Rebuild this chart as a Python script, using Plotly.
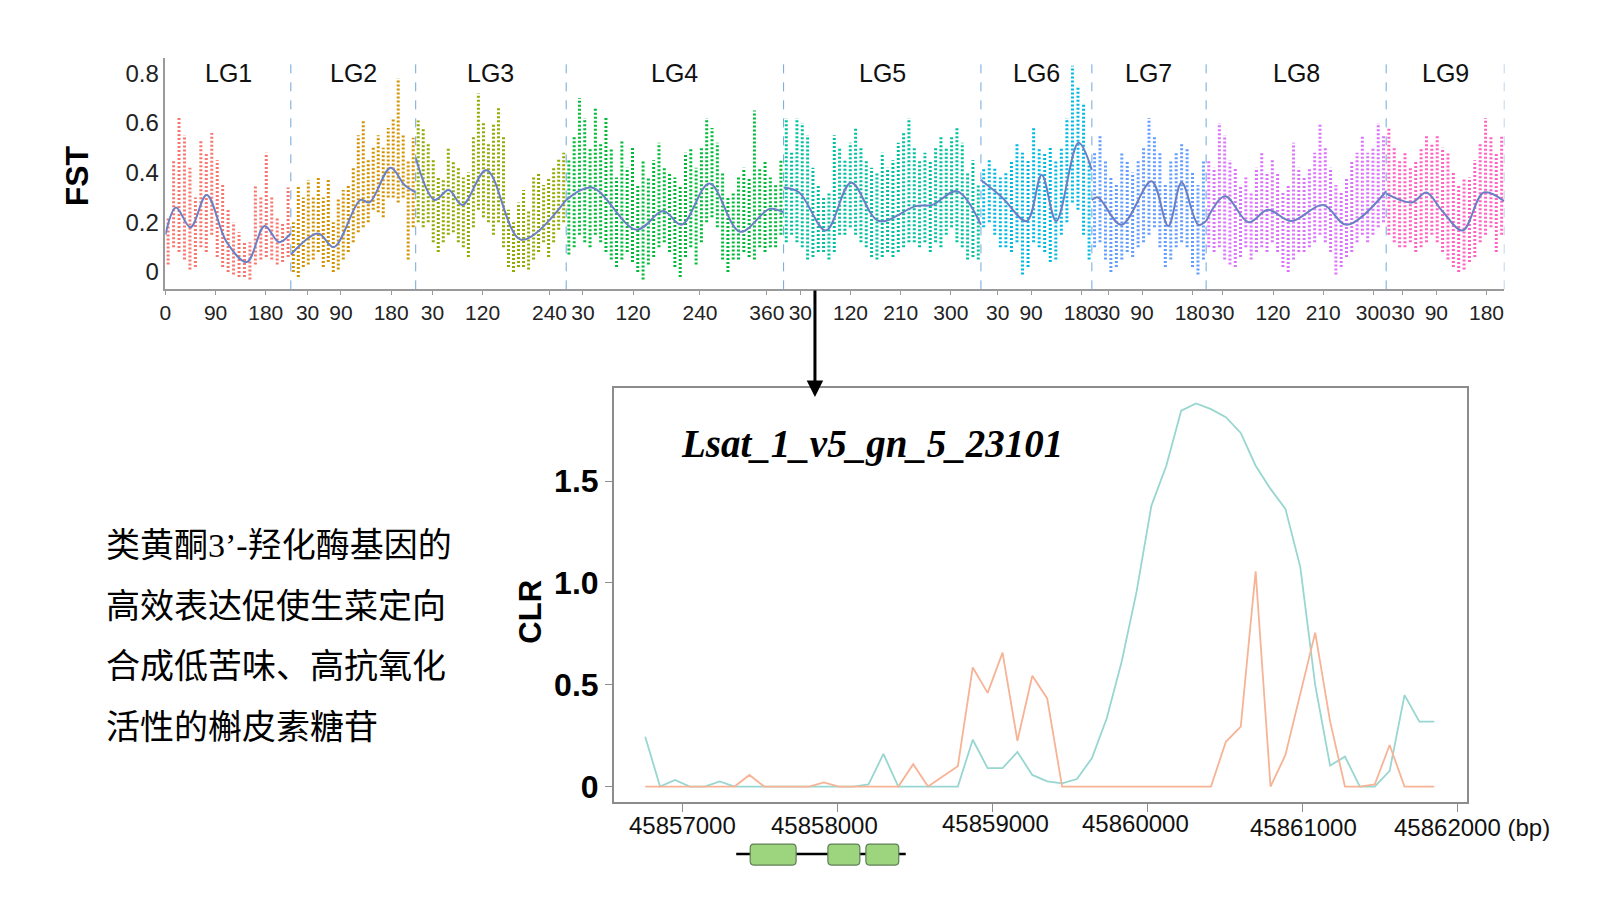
#%%
import numpy as np
import plotly.graph_objects as go

FONT = "Liberation Sans, Arial, sans-serif"

#%%
# genome-wide FST panel (top)
lg_names = ["LG1", "LG2", "LG3", "LG4", "LG5", "LG6", "LG7", "LG8", "LG9"]
lg_lengths = [225, 224, 270, 390, 354, 199, 205, 323, 212]  # Mb
lg_colors = ["#f8766d", "#d39200", "#93aa00", "#00ba38", "#00c19f",
             "#00b9e3", "#619cff", "#db72fb", "#ff61c3"]
lg_tick_labels = [[0, 90, 180], [30, 90, 180], [30, 120, 240], [30, 120, 240, 360],
                  [30, 120, 210, 300], [30, 90, 180], [30, 90, 180],
                  [30, 120, 210, 300], [30, 90, 180]]

# upper / lower edge of the FST point cloud, window by window along each LG
lg1_top = [0.22, 0.45, 0.62, 0.55, 0.42, 0.30, 0.53, 0.48, 0.56, 0.45, 0.35, 0.25, 0.20, 0.16, 0.12, 0.12,
           0.35, 0.30, 0.48, 0.30, 0.22, 0.20, 0.34]
lg1_bot = [0.03, 0.10, 0.08, 0.05, 0.01, 0.02, 0.10, 0.08, 0.15, 0.06, 0.02, 0.00, -0.01, -0.02, -0.02, -0.03,
           0.03, 0.05, 0.06, 0.05, 0.03, 0.04, 0.06]
lg2_top = [0.20, 0.35, 0.30, 0.37, 0.30, 0.38, 0.30, 0.37, 0.20, 0.30, 0.33, 0.35, 0.42, 0.55, 0.61, 0.45,
           0.50, 0.55, 0.50, 0.58, 0.62, 0.78, 0.55, 0.45, 0.54]
lg2_bot = [0.00, -0.02, 0.02, 0.03, 0.05, 0.08, 0.02, 0.04, 0.00, 0.01, 0.05, 0.08, 0.12, 0.16, 0.18, 0.20,
           0.25, 0.24, 0.22, 0.30, 0.30, 0.28, 0.30, 0.05, 0.18]
lg3_top = [0.61, 0.58, 0.52, 0.45, 0.38, 0.37, 0.50, 0.45, 0.42, 0.38, 0.40, 0.55, 0.72, 0.60, 0.52, 0.60,
           0.66, 0.55, 0.25, 0.20, 0.28, 0.33, 0.25, 0.38, 0.40, 0.35, 0.38, 0.42, 0.46, 0.48]
lg3_bot = [0.20, 0.18, 0.20, 0.12, 0.08, 0.12, 0.15, 0.16, 0.12, 0.10, 0.06, 0.18, 0.25, 0.22, 0.20, 0.15,
           0.20, 0.10, 0.02, 0.00, 0.02, 0.02, 0.01, 0.05, 0.08, 0.12, 0.06, 0.12, 0.17, 0.20]
lg4_top = [0.45, 0.55, 0.70, 0.62, 0.50, 0.66, 0.52, 0.62, 0.50, 0.38, 0.53, 0.42, 0.50, 0.35, 0.45, 0.38,
           0.45, 0.52, 0.42, 0.40, 0.38, 0.35, 0.48, 0.50, 0.42, 0.50, 0.62, 0.58, 0.52, 0.40, 0.30, 0.32,
           0.38, 0.42, 0.38, 0.65, 0.42, 0.45, 0.38, 0.35, 0.45]
lg4_bot = [0.07, 0.10, 0.15, 0.12, 0.10, 0.15, 0.12, 0.08, 0.05, 0.02, 0.05, 0.08, 0.04, 0.00, -0.03, 0.03,
           0.06, 0.10, 0.12, 0.08, 0.02, -0.02, 0.06, 0.10, 0.03, 0.12, 0.20, 0.22, 0.18, 0.05, 0.00, 0.05,
           0.05, 0.08, 0.06, 0.05, 0.10, 0.08, 0.10, 0.10, 0.15]
lg5_top = [0.62, 0.48, 0.62, 0.60, 0.55, 0.42, 0.35, 0.30, 0.32, 0.55, 0.50, 0.45, 0.52, 0.58, 0.50, 0.45,
           0.42, 0.40, 0.48, 0.42, 0.45, 0.52, 0.56, 0.62, 0.50, 0.45, 0.48, 0.45, 0.50, 0.55, 0.50, 0.55,
           0.58, 0.52, 0.40, 0.45, 0.35]
lg5_bot = [0.12, 0.15, 0.12, 0.10, 0.05, 0.06, 0.08, 0.08, 0.05, 0.08, 0.15, 0.15, 0.18, 0.15, 0.12, 0.10,
           0.06, 0.05, 0.06, 0.08, 0.06, 0.08, 0.10, 0.12, 0.12, 0.10, 0.12, 0.08, 0.12, 0.10, 0.15, 0.18,
           0.12, 0.10, 0.05, 0.06, 0.05]
lg6_top = [0.42, 0.45, 0.42, 0.38, 0.40, 0.45, 0.52, 0.48, 0.45, 0.58, 0.50, 0.48, 0.50, 0.45, 0.50, 0.62,
           0.83, 0.75, 0.68, 0.45]
lg6_bot = [0.18, 0.20, 0.15, 0.10, 0.10, 0.08, 0.12, -0.01, 0.02, 0.12, 0.10, 0.08, 0.04, 0.05, 0.15, 0.20,
           0.28, 0.25, 0.15, 0.05]
lg7_top = [0.48, 0.55, 0.45, 0.38, 0.35, 0.48, 0.45, 0.40, 0.45, 0.50, 0.62, 0.55, 0.48, 0.35, 0.45, 0.48,
           0.52, 0.50, 0.40, 0.35, 0.45]
lg7_bot = [0.10, 0.12, 0.05, 0.00, 0.02, 0.05, 0.08, 0.06, 0.10, 0.12, 0.15, 0.18, 0.10, 0.02, 0.05, 0.10,
           0.12, 0.10, 0.02, -0.01, 0.05]
lg8_top = [0.45, 0.42, 0.60, 0.55, 0.45, 0.42, 0.35, 0.38, 0.32, 0.42, 0.48, 0.40, 0.45, 0.40, 0.32, 0.35,
           0.52, 0.42, 0.38, 0.42, 0.48, 0.60, 0.50, 0.42, 0.35, 0.32, 0.38, 0.45, 0.48, 0.55, 0.48, 0.50,
           0.60, 0.55]
lg8_bot = [0.10, 0.08, 0.10, 0.05, 0.03, 0.02, 0.06, 0.10, 0.05, 0.08, 0.10, 0.08, 0.12, 0.08, 0.02, 0.00,
           0.05, 0.08, 0.08, 0.10, 0.12, 0.15, 0.12, 0.08, -0.01, 0.02, 0.06, 0.08, 0.12, 0.15, 0.12, 0.15,
           0.18, 0.20]
lg9_top = [0.58, 0.50, 0.45, 0.48, 0.42, 0.45, 0.50, 0.55, 0.52, 0.55, 0.50, 0.48, 0.40, 0.35, 0.38, 0.38,
           0.45, 0.52, 0.62, 0.55, 0.48, 0.55]
lg9_bot = [0.15, 0.12, 0.10, 0.10, 0.12, 0.08, 0.10, 0.12, 0.15, 0.12, 0.08, 0.05, 0.02, 0.00, 0.01, 0.04,
           0.06, 0.12, 0.15, 0.18, 0.08, 0.15]

fst_top = [lg1_top, lg2_top, lg3_top, lg4_top, lg5_top, lg6_top, lg7_top, lg8_top, lg9_top]
fst_bot = [lg1_bot, lg2_bot, lg3_bot, lg4_bot, lg5_bot, lg6_bot, lg7_bot, lg8_bot, lg9_bot]

# smoothed FST curve (position in Mb inside the LG, value)
smooth_pos = [[0, 19, 45, 74, 110, 146, 178, 204, 225],
              [0, 49, 77, 125, 141, 179, 204, 224],
              [0, 34, 59, 84, 127, 189, 270],
              [0, 46, 126, 174, 207, 257, 312, 365, 390],
              [0, 28, 76, 121, 171, 237, 267, 311, 354],
              [0, 38, 82, 109, 135, 175, 199],
              [0, 11, 53, 107, 137, 161, 191, 205],
              [0, 34, 76, 111, 153, 210, 252, 323],
              [0, 46, 72, 99, 137, 175, 212]]
smooth_val = [[0.15, 0.26, 0.18, 0.31, 0.12, 0.04, 0.185, 0.12, 0.155],
              [0.07, 0.155, 0.10, 0.29, 0.28, 0.42, 0.35, 0.32],
              [0.46, 0.29, 0.33, 0.27, 0.41, 0.13, 0.29],
              [0.29, 0.34, 0.17, 0.245, 0.19, 0.356, 0.162, 0.254, 0.24],
              [0.34, 0.32, 0.167, 0.359, 0.205, 0.265, 0.27, 0.325, 0.19],
              [0.37, 0.30, 0.205, 0.39, 0.205, 0.52, 0.41],
              [0.29, 0.30, 0.19, 0.365, 0.185, 0.36, 0.19, 0.205],
              [0.205, 0.305, 0.20, 0.25, 0.205, 0.27, 0.19, 0.325],
              [0.315, 0.28, 0.32, 0.25, 0.167, 0.32, 0.285]]

#%%
# CLR panel (bottom)
clr_pos = [45856760, 45856856, 45856952, 45857048, 45857144, 45857240, 45857336, 45857432, 45857528,
           45857624, 45857720, 45857816, 45857912, 45858008, 45858104, 45858200, 45858296, 45858392,
           45858488, 45858584, 45858680, 45858776, 45858872, 45858968, 45859064, 45859160, 45859256,
           45859352, 45859448, 45859544, 45859640, 45859736, 45859832, 45859928, 45860024, 45860120,
           45860216, 45860312, 45860408, 45860504, 45860600, 45860696, 45860792, 45860888, 45860984,
           45861080, 45861176, 45861272, 45861368, 45861464, 45861560, 45861656, 45861752, 45861848]
clr_teal = [0.245, 0, 0.032, 0, 0, 0.025, 0, 0, 0, 0, 0, 0, 0, 0, 0, 0.01, 0.16, 0, 0, 0, 0, 0,
            0.23, 0.09, 0.09, 0.17, 0.057, 0.025, 0.016, 0.037, 0.139, 0.335, 0.613, 0.956, 1.38, 1.576,
            1.846, 1.882, 1.854, 1.814, 1.737, 1.576, 1.462, 1.364, 1.078, 0.498, 0.103, 0.147, 0, 0,
            0.077, 0.449, 0.319, 0.319]
clr_orange = [0, 0, 0, 0, 0, 0, 0, 0.057, 0, 0, 0, 0, 0.02, 0, 0, 0, 0, 0, 0.11, 0, 0.05, 0.10,
              0.585, 0.46, 0.658, 0.225, 0.544, 0.433, 0, 0, 0, 0, 0, 0, 0, 0, 0, 0, 0, 0.22, 0.294,
              1.057, 0, 0.155, 0.45, 0.756, 0.32, 0, 0, 0.01, 0.204, 0, 0, 0]

clr_tick_vals = [45857000, 45858000, 45859000, 45860000, 45861000, 45862000]
clr_tick_text = ["45857000", "45858000", "45859000", "45860000", "45861000", "45862000 (bp)"]
clr_label_pos = [45857000, 45857919, 45859018, 45859924, 45861004, 45861576]

gene_span = [45857347, 45858440]
exon_start = [45857437, 45857938, 45858183]
exon_end = [45857733, 45858144, 45858395]

note_lines = ["类黄酮<span style=\"font-family:Liberation Serif\">3’-</span>羟化酶基因的",
              "高效表达促使生菜定向", "合成低苦味、高抗氧化", "活性的槲皮素糖苷"]

#%%
W, H = 1600, 900
def px(x):
    return x / W
def py(y):
    return 1 - y / H

fig = go.Figure()

offsets = np.concatenate([[0], np.cumsum(lg_lengths)[:-1]])

for k in range(len(lg_names)):
    n = len(fst_top[k])
    xs, ys = [], []
    for i, (hi, lo) in enumerate(zip(fst_top[k], fst_bot[k])):
        x = offsets[k] + (i + 0.5) * lg_lengths[k] / n
        xs += [x, x, None]
        ys += [lo, hi, None]
    fig.add_trace(go.Scatter(x=xs, y=ys, mode='lines', xaxis='x', yaxis='y',
                             line=dict(color=lg_colors[k], width=3, dash='2px,2px'),
                             showlegend=False, hoverinfo='skip'))

for k in range(len(lg_names)):
    fig.add_trace(go.Scatter(x=[offsets[k] + p for p in smooth_pos[k]], y=smooth_val[k], mode='lines',
                             xaxis='x', yaxis='y', line=dict(color='#6b7fc4', width=2, shape='spline'),
                             showlegend=False, hoverinfo='skip'))

fig.add_trace(go.Scatter(x=clr_pos, y=clr_teal, mode='lines', xaxis='x2', yaxis='y2',
                         line=dict(color='#98d6d1', width=1.8), showlegend=False))
fig.add_trace(go.Scatter(x=clr_pos, y=clr_orange, mode='lines', xaxis='x2', yaxis='y2',
                         line=dict(color='#f7b395', width=1.8), showlegend=False))

# x ticks of the FST panel
tickvals, ticktext = [], []
for k in range(len(lg_names)):
    for t in lg_tick_labels[k]:
        tickvals.append(offsets[k] + t)
        ticktext.append(str(t))

total = float(np.sum(lg_lengths))

shapes = []
# LG boundaries
for k in range(len(lg_names)):
    xb = offsets[k] + lg_lengths[k]
    shapes.append(dict(type='line', xref='x', yref='y domain', x0=xb, x1=xb, y0=0, y1=1,
                       line=dict(color='#6fa8dc', width=1, dash='dash')))

# gene model
gy = py(856)
shapes.append(dict(type='line', xref='x2', yref='paper', x0=gene_span[0], x1=gene_span[1], y0=gy, y1=gy,
                   line=dict(color='black', width=2.5)))
rx, ry = 22, 4 / H
y_lo, y_hi = py(867), py(846)
for s, e in zip(exon_start, exon_end):
    path = (f"M {s + rx},{y_lo} L {e - rx},{y_lo} Q {e},{y_lo} {e},{y_lo + ry} "
            f"L {e},{y_hi - ry} Q {e},{y_hi} {e - rx},{y_hi} L {s + rx},{y_hi} "
            f"Q {s},{y_hi} {s},{y_hi - ry} L {s},{y_lo + ry} Q {s},{y_lo} {s + rx},{y_lo} Z")
    shapes.append(dict(type='path', xref='x2', yref='paper', path=path,
                       fillcolor='#9dd57f', line=dict(color='#5f7f55', width=1.2)))

annotations = []
for k in range(len(lg_names)):
    annotations.append(dict(x=offsets[k] + lg_lengths[k] / 2, y=0.8, xref='x', yref='y', text=lg_names[k],
                            showarrow=False, xanchor='center', yanchor='middle',
                            font=dict(family=FONT, size=25, color='#111')))

annotations.append(dict(x=px(71), y=py(176), xref='paper', yref='paper', text='<b>FST</b>', textangle=-90,
                        showarrow=False, xanchor='center', yanchor='middle',
                        font=dict(family=FONT, size=32, color='black')))
annotations.append(dict(x=px(527), y=py(613), xref='paper', yref='paper', text='<b>CLR</b>', textangle=-90,
                        showarrow=False, xanchor='center', yanchor='middle',
                        font=dict(family=FONT, size=31, color='black')))
annotations.append(dict(x=px(869), y=py(445), xref='paper', yref='paper',
                        text='<b><i>Lsat_1_v5_gn_5_23101</i></b>', showarrow=False,
                        xanchor='center', yanchor='middle',
                        font=dict(family='Liberation Serif, Times New Roman, serif', size=39, color='black')))

label_y = [827, 827, 825, 825, 829, 829]
for pos, txt, ly in zip(clr_label_pos, clr_tick_text, label_y):
    annotations.append(dict(x=pos, y=py(ly), xref='x2', yref='paper', text=txt, showarrow=False,
                            xanchor='left' if 'bp' in txt else 'center', yanchor='middle',
                            font=dict(family=FONT, size=24, color='#111')))

for line, ly in zip(note_lines, [544, 605, 665, 726]):
    annotations.append(dict(x=px(98), y=py(ly), xref='paper', yref='paper', text=line, showarrow=False,
                            xanchor='left', yanchor='middle',
                            font=dict(family='Noto Sans CJK SC', size=34, color='black')))

# arrow from the FST panel down to the CLR panel
annotations.append(dict(x=px(812), y=py(398), xref='paper', yref='paper', ax=0, ay=-108, text='',
                        showarrow=True, arrowhead=2, arrowsize=1.1, arrowwidth=3, arrowcolor='black'))

fig.update_layout(
    width=W, height=H, margin=dict(l=0, r=0, t=0, b=0),
    paper_bgcolor='white', plot_bgcolor='white',
    xaxis=dict(domain=[px(160), px(1504)], range=[0, total], tickvals=tickvals, ticktext=ticktext,
               tickangle=0, showline=True, linecolor='#9a9a9a', linewidth=1.5, ticks='outside', ticklen=4,
               tickcolor='#9a9a9a', showgrid=False, zeroline=False,
               tickfont=dict(family=FONT, size=21, color='#222'), anchor='y'),
    yaxis=dict(domain=[py(290), py(58)], range=[-0.07, 0.862], tickvals=[0, 0.2, 0.4, 0.6, 0.8],
               ticktext=['0', '0.2', '0.4', '0.6', '0.8'], showline=True, linecolor='#9a9a9a',
               linewidth=1.5, ticks='', showgrid=False, zeroline=False,
               tickfont=dict(family=FONT, size=24, color='#222'), anchor='x'),
    xaxis2=dict(domain=[px(610), px(1467)], range=[45856557, 45862062], tickvals=clr_tick_vals,
                showticklabels=False, showline=True, mirror=True, linecolor='#8c8c8c', linewidth=1.5,
                ticks='outside', ticklen=8, tickcolor='#8c8c8c', showgrid=False, zeroline=False,
                anchor='y2'),
    yaxis2=dict(domain=[py(804), py(389)], range=[-0.077, 1.957], tickvals=[0, 0.5, 1.0, 1.5],
                ticktext=['<b>0</b>', '<b>0.5</b>', '<b>1.0</b>', '<b>1.5</b>'], showline=True, mirror=True,
                linecolor='#8c8c8c', linewidth=1.5, ticks='outside', ticklen=7, tickcolor='#8c8c8c',
                showgrid=False, zeroline=False, tickfont=dict(family=FONT, size=32, color='black'),
                anchor='x2'),
    shapes=shapes, annotations=annotations,
)

fig.write_html("out.html", config={'displayModeBar': False},
               post_script="document.body.style.margin='0px';document.body.style.overflow='hidden';")
